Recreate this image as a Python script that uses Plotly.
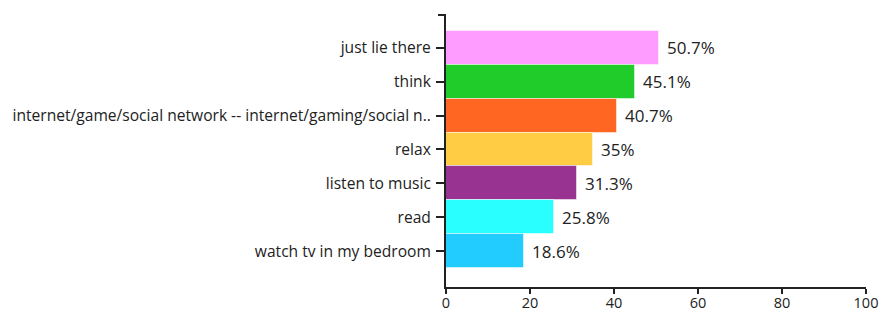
import plotly.graph_objects as go

categories = ["just lie there", "think",
              "internet/game/social network -- internet/gaming/social n..",
              "relax", "listen to music", "read", "watch tv in my bedroom"]
values = [50.7, 45.1, 40.7, 35, 31.3, 25.8, 18.6]
labels = ["50.7%", "45.1%", "40.7%", "35%", "31.3%", "25.8%", "18.6%"]
colors = ["#FF9CFF", "#1FCC29", "#FF6622", "#FFCC44", "#993391", "#2AFFFF", "#23CCFF"]
x_ticks = [0, 20, 40, 60, 80, 100]

FONT = "Open Sans"

fig = go.Figure()
fig.add_trace(go.Bar(
    y=categories, x=values, orientation="h",
    marker=dict(color=colors, line=dict(color="rgba(255,255,255,0.5)", width=1)),
    width=1.0, hoverinfo="skip",
))

for c, v, t in zip(categories, values, labels):
    fig.add_annotation(x=v, y=c, text=t, showarrow=False, xanchor="left",
                       xshift=6, font=dict(family=FONT, size=17, color="#222"))

fig.add_shape(type="line", xref="paper", yref="paper", x0=-0.019, x1=0, y0=1, y1=1,
              line=dict(color="#222", width=2))

fig.update_layout(
    width=881, height=312,
    margin=dict(l=446, r=15, t=15, b=25, autoexpand=False),
    paper_bgcolor="white", plot_bgcolor="white",
    showlegend=False, bargap=0,
    font=dict(family=FONT, size=15.6, color="#222"),
    xaxis=dict(range=[0, 100], tickvals=x_ticks, showgrid=False, zeroline=False,
               showline=True, linecolor="#222", linewidth=2,
               ticks="outside", ticklen=5, tickwidth=2, tickcolor="#222",
               tickfont=dict(size=14.5), ticklabelstandoff=-3),
    yaxis=dict(type="category", categoryorder="array", categoryarray=categories,
               range=[7.06, -0.97], showgrid=False, zeroline=False,
               showline=True, linecolor="#222", linewidth=2,
               ticks="outside", ticklen=8, tickwidth=2, tickcolor="#222",
               ticklabelstandoff=2),
)

fig.write_html("out.html", config={"displayModeBar": False},
               post_script="document.body.style.margin='0';document.body.style.overflow='hidden';")
